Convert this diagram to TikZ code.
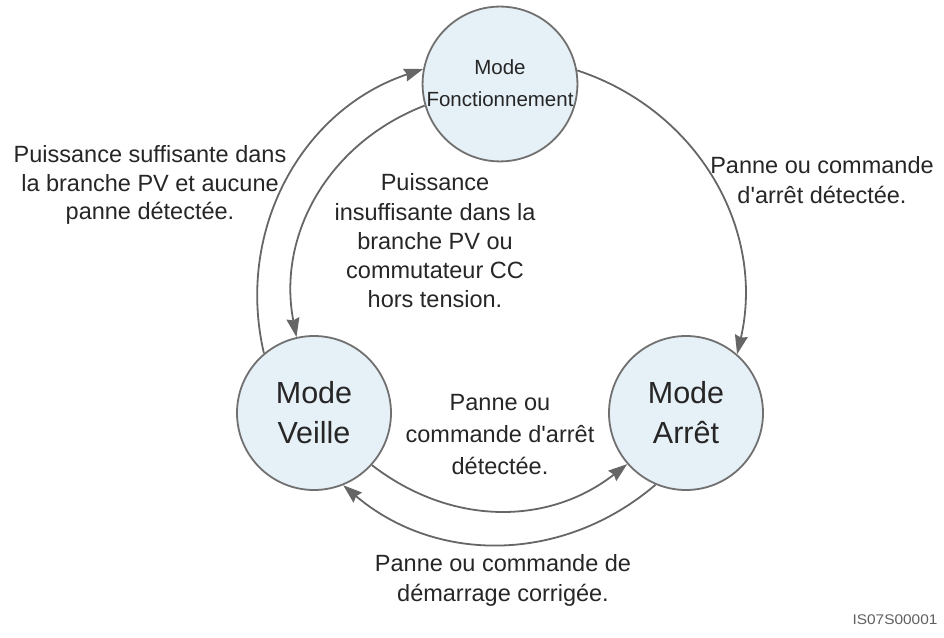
\documentclass[tikz,border=0pt]{standalone}
\usepackage{fontspec}
\setmainfont{Liberation Sans}[Ligatures=TeXOff]
\usetikzlibrary{arrows.meta}
\definecolor{statefill}{HTML}{E6F0F7}
\definecolor{stateline}{HTML}{707070}
\definecolor{conn}{HTML}{666666}
\definecolor{tipc}{HTML}{555555}
\definecolor{idc}{HTML}{606060}
\tikzset{
  state/.style={circle, draw=stateline, line width=1.8pt, fill=statefill, minimum size=154pt, inner sep=0pt, align=center, font=\fontsize{30.5}{40}\selectfont, text=black!85},
  topstate/.style={state, font=\fontsize{20.5}{31}\selectfont},
  conn/.style={draw=conn, line width=1.8pt, -{Stealth[length=19pt,width=13pt,inset=2pt]}, color=conn},
  lbl/.style={align=center, font=\fontsize{23.5}{28.5}\selectfont, text=black!85, inner sep=0pt},
}
\begin{document}
\begin{tikzpicture}[x=1pt,y=1pt]
\useasboundingbox (0,0) rectangle (944,637);
\node[topstate] (F) at (500,553) {\raisebox{3pt}{Mode}\\\raisebox{2pt}{Fonctionnement}};
\node[state] (V) at (314,224) {\raisebox{-4pt}{Mode}\\\raisebox{-4pt}{Veille}};
\node[state] (A) at (686,224) {\raisebox{-4pt}{Mode}\\\raisebox{-4pt}{Arrêt}};

\draw[conn] (V.130.4) to[bend left=42.4] (F.169.8);
\draw[conn] (F.196.3) to[bend right=39.9] (V.103.8);
\draw[conn] (F.10.2) to[bend left=42.4] (A.49.6);
\draw[conn] (V.318.7) to[bend right=37.9] (A.221.3);
\draw[conn] (A.247.7) to[bend left=40.4] (V.292.3);

\node[lbl] (l1) at (150,452) {Puissance suffisante dans\\la branche PV et aucune\\panne détectée.};
\node[lbl, font=\fontsize{23.5}{29.2}\selectfont] (l2) at (435,396) {Puissance\\insuffisante dans la\\branche PV ou\\commutateur CC\\hors tension.};
\node[lbl, font=\fontsize{23.5}{30}\selectfont] (l3) at (822,457) {Panne ou commande\\d'arrêt détectée.};
\node[lbl, font=\fontsize{23.5}{32}\selectfont] (l4) at (500,202) {Panne ou\\commande d'arrêt\\détectée.};
\node[lbl, font=\fontsize{23.5}{30}\selectfont] (l5) at (503,57) {Panne ou commande de\\démarrage corrigée.};
\node[font=\fontsize{14}{16}\selectfont, text=idc, inner sep=0pt] (id) at (895,17) {\scalebox{1.1}[1]{IS07S00001}};
\end{tikzpicture}
\end{document}
